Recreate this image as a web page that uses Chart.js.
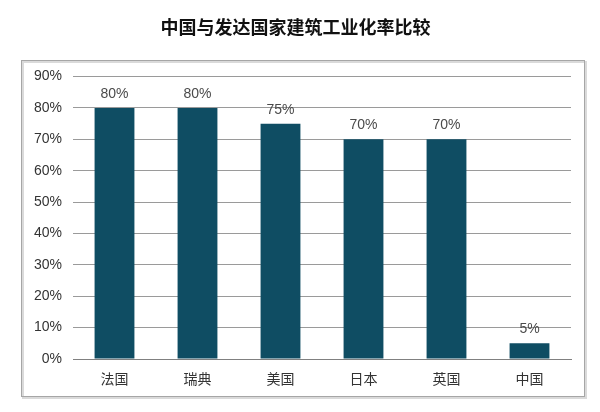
<!DOCTYPE html>
<html>
<head>
<meta charset="utf-8">
<script src="https://cdn.jsdelivr.net/npm/chart.js@4"></script>
<style>
  html, body { margin: 0; padding: 0; background: #fff; }
  #wrap { width: 600px; height: 412px; position: relative; }
</style>
</head>
<body>
<div id="wrap"><canvas id="rateChart"></canvas></div>
<script>
// 数据
const countries = ['法国', '瑞典', '美国', '日本', '英国', '中国'];
const rates = [80, 80, 75, 70, 70, 5];
const yTicks = [0, 10, 20, 30, 40, 50, 60, 70, 80, 90];

const FONT = '"Liberation Sans", Arial, "Noto Sans CJK SC", sans-serif';

// 外框
const framePlugin = {
  id: 'frame',
  beforeDraw(chart) {
    const ctx = chart.ctx;
    ctx.save();
    ctx.fillStyle = '#ffffff';
    ctx.fillRect(0, 0, chart.width, chart.height);
    ctx.strokeStyle = '#dadada';
    ctx.lineWidth = 2;
    ctx.strokeRect(23, 62, 563, 336);
    ctx.strokeStyle = '#a6a6a6';
    ctx.lineWidth = 1;
    ctx.strokeRect(21.5, 60.5, 563, 336);
    ctx.restore();
  }
};

// 柱顶数值
const valueLabels = {
  id: 'valueLabels',
  afterDatasetsDraw(chart) {
    const ctx = chart.ctx;
    const meta = chart.getDatasetMeta(0);
    ctx.save();
    ctx.fillStyle = '#4a4a4a';
    ctx.font = '14px ' + FONT;
    ctx.textAlign = 'center';
    ctx.textBaseline = 'middle';
    meta.data.forEach(function (bar, i) {
      ctx.fillText(rates[i] + '%', bar.x, bar.y - 14);
    });
    ctx.restore();
  }
};

const ctx = document.getElementById('rateChart').getContext('2d');
new Chart(ctx, {
  type: 'bar',
  data: {
    labels: countries,
    datasets: [{
      data: rates,
      backgroundColor: '#0f4d63',
      barPercentage: 0.48,
      categoryPercentage: 1
    }]
  },
  options: {
    responsive: true,
    maintainAspectRatio: false,
    animation: false,
    layout: { padding: { left: 20, right: 29, top: 0, bottom: 23 } },
    plugins: {
      legend: { display: false },
      tooltip: { enabled: false },
      title: {
        display: true,
        text: '中国与发达国家建筑工业化率比较',
        color: '#111',
        font: { family: FONT, size: 18, weight: 'bold' },
        padding: { top: 18, bottom: 37 }
      }
    },
    scales: {
      x: {
        grid: { display: false, drawTicks: false },
        border: { display: true, color: '#808080', width: 1 },
        ticks: { color: '#333', font: { family: FONT, size: 14 }, padding: 13 },
        afterFit(scale) { scale.height = 30; }
      },
      y: {
        min: 0,
        max: 90,
        afterBuildTicks(scale) {
          scale.ticks = yTicks.map(function (v) { return { value: v }; });
        },
        grid: { color: '#9a9a9a', lineWidth: 1, drawTicks: false },
        border: { display: false },
        ticks: {
          color: '#333',
          font: { family: FONT, size: 14 },
          padding: 11,
          callback: function (v) { return v + '%'; }
        },
        afterFit(scale) { scale.width = 53; }
      }
    }
  },
  plugins: [framePlugin, valueLabels]
});
</script>
</body>
</html>
